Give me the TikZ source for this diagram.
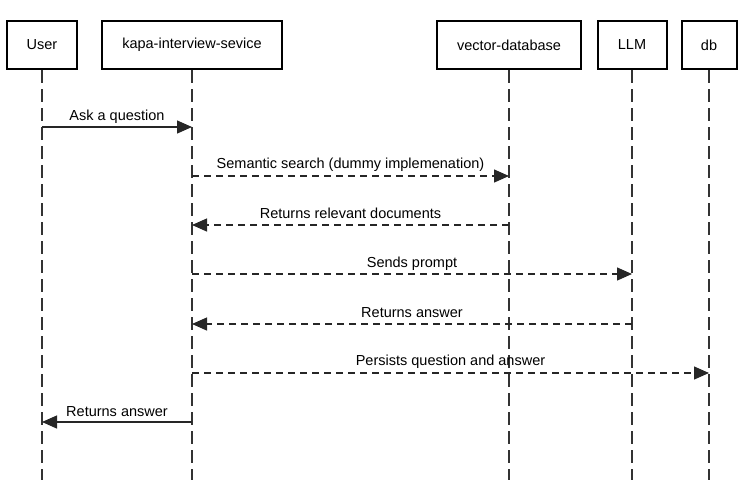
\documentclass[tikz,border=0pt]{standalone}
\usepackage{fontspec}
\setmainfont{Liberation Sans}
\usetikzlibrary{arrows.meta}
\begin{document}
\begin{tikzpicture}[x=1pt,y=-1pt,
  actor/.style={draw=black,line width=2pt,fill=white,minimum height=48pt,inner sep=0pt,font=\fontsize{14.5}{16}\selectfont},
  lifeline/.style={draw=black!80,line width=1.6pt,dash pattern=on 13pt off 6pt},
  msg/.style={draw=black!85,line width=1.3pt,-{Triangle[length=15pt,width=13pt]}},
  amsg/.style={msg,dash pattern=on 7pt off 5pt},
  lbl/.style={font=\fontsize{14.5}{16}\selectfont,inner sep=0pt,anchor=base}]
\useasboundingbox (0,0) rectangle (745,480);
\node[actor,minimum width=70pt] (user) at (42,45) {User};
\node[actor,minimum width=180pt] (kapa) at (192,45) {kapa-interview-sevice};
\node[actor,minimum width=144pt] (vec) at (509,45) {vector-database};
\node[actor,minimum width=69pt] (llm) at (632,45) {LLM};
\node[actor,minimum width=55pt] (db) at (709,45) {db};
\foreach \n in {user,kapa,vec,llm,db}{
  \coordinate (\n end) at (\n.south |- 0,480);
  \draw[lifeline] (\n.south) -- (\n end);
}
\draw[msg] (user.south |- 0,127) -- (kapa.south |- 0,127);
\node[lbl] (l1) at (117,120) {Ask a question};
\draw[amsg] (kapa.south |- 0,176) -- (vec.south |- 0,176);
\node[lbl] (l2) at (350.5,168) {Semantic search (dummy implemenation)};
\draw[amsg] (vec.south |- 0,225) -- (kapa.south |- 0,225);
\node[lbl] (l3) at (350.5,218) {Returns relevant documents};
\draw[amsg] (kapa.south |- 0,274) -- (llm.south |- 0,274);
\node[lbl] (l4) at (412,267) {Sends prompt};
\draw[amsg] (llm.south |- 0,324) -- (kapa.south |- 0,324);
\node[lbl] (l5) at (412,317) {Returns answer};
\draw[amsg] (kapa.south |- 0,373) -- (db.south |- 0,373);
\node[lbl] (l6) at (450.5,365) {Persists question and answer};
\draw[msg] (kapa.south |- 0,422) -- (user.south |- 0,422);
\node[lbl] (l7) at (117,416) {Returns answer};
\end{tikzpicture}
\end{document}
